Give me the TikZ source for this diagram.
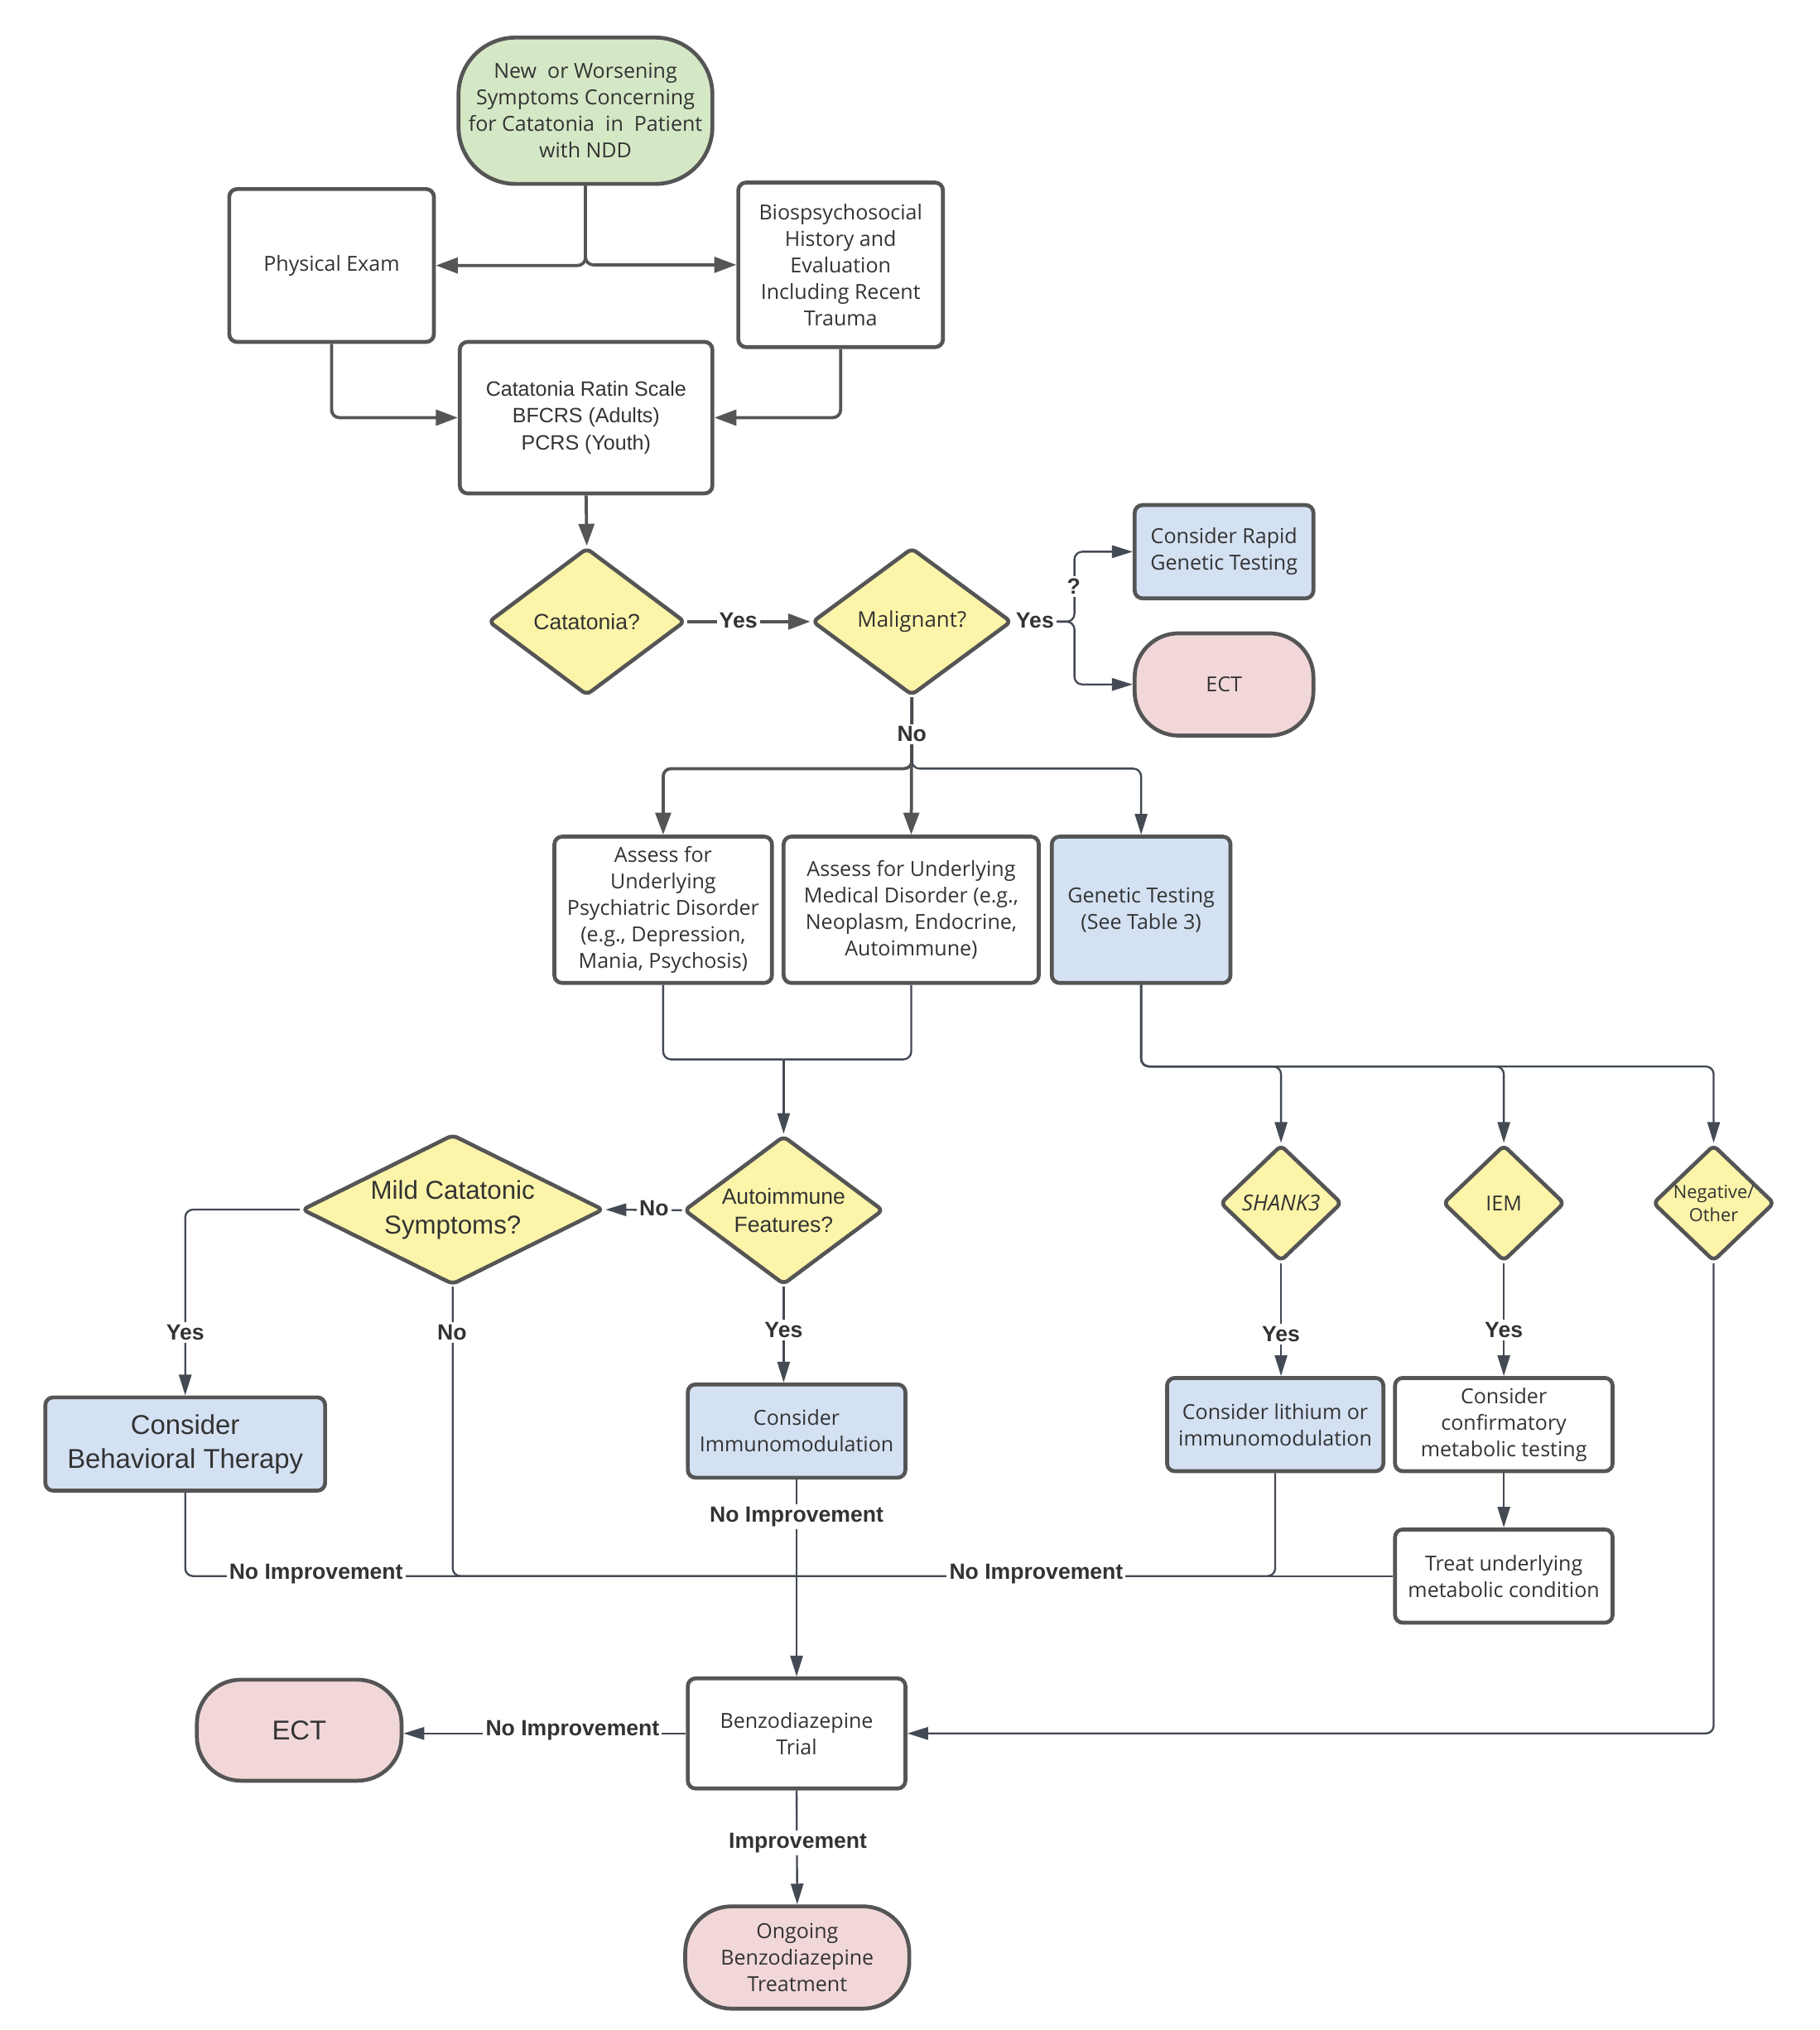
\documentclass[tikz,border=0pt]{standalone}
\usepackage{fontspec}
\setmainfont{Open Sans}
\newfontfamily\arialf{Liberation Sans}
\usetikzlibrary{shapes.geometric,arrows.meta,calc}
\definecolor{bord}{HTML}{555555}
\definecolor{linec}{HTML}{434A54}
\definecolor{txt}{HTML}{333333}
\definecolor{gfill}{HTML}{D5E8C6}
\definecolor{yfill}{HTML}{FCF5A9}
\definecolor{bfill}{HTML}{D4E1F3}
\definecolor{pfill}{HTML}{F2D7D9}
\begin{document}
\begin{tikzpicture}[x=0.5pt,y=-0.5pt,
 box/.style={draw=bord, line width=1.5pt, rounded corners=3pt, fill=white, align=center, text=txt, inner sep=0pt, font=\fontsize{8}{10.25}\selectfont},
 dia/.style={diamond, draw=bord, line width=1.5pt, rounded corners=2pt, fill=yfill, inner sep=0pt},
 dtext/.style={align=center, text=txt, inner sep=0pt, font=\fontsize{8}{10.25}\selectfont},
 thk/.style={draw=bord, line width=1.2pt, rounded corners=3pt},
 thn/.style={draw=linec, line width=0.75pt, rounded corners=3pt},
 tarr/.style={thk, -{Triangle[length=8.5pt,width=6pt]}},
 narr/.style={thn, -{Triangle[length=8pt,width=4.8pt]}},
 lbl/.style={fill=white, inner sep=1pt, text=txt, font=\arialf\bfseries\fontsize{8.5}{10}\selectfont},
]
\useasboundingbox (1,1) rectangle (1406,1568.5);
% nodes
\node[box, fill=gfill, rounded corners=22pt, minimum width=98pt, minimum height=56.5pt] (start) at (453,86.5) {New\ \ or Worsening\\Symptoms Concerning\\for Catatonia\ \ in\ \ Patient\\with NDD};
\node[box, minimum width=79pt, minimum height=59pt] (pe) at (257,206) {Physical Exam};
\node[box, minimum width=79pt, minimum height=63.5pt] (bio) at (650,205.5) {Biospsychosocial\\History and\\Evaluation\\Including Recent\\Trauma};
\node[box, minimum width=97.5pt, minimum height=58.5pt, font=\arialf\fontsize{8}{10.5}\selectfont] (crs) at (453.5,323.5) {Catatonia Ratin Scale\\BFCRS (Adults)\\PCRS (Youth)};
\node[dia, minimum width=76pt, minimum height=57pt, label={[dtext, font=\arialf\fontsize{8.5}{10.5}\selectfont]center:Catatonia?}] (cat) at (454,481) {};
\node[dia, minimum width=77pt, minimum height=57pt, label={[dtext, font=\fontsize{8.3}{10.5}\selectfont]center:Malignant?}] (mal) at (705,481) {};
\node[box, fill=bfill, minimum width=69pt, minimum height=36pt] (rapid) at (946,427) {Consider Rapid\\Genetic Testing};
\node[box, fill=pfill, rounded corners=17pt, minimum width=69pt, minimum height=39.5pt] (ect1) at (946,529.5) {ECT};
\node[box, minimum width=84pt, minimum height=56.5pt] (psy) at (513,703.5) {Assess for\\Underlying\\Psychiatric Disorder\\(e.g., Depression,\\Mania, Psychosis)};
\node[box, minimum width=98.5pt, minimum height=56.5pt] (med) at (704.5,703.5) {Assess for Underlying\\Medical Disorder (e.g.,\\Neoplasm, Endocrine,\\Autoimmune)};
\node[box, fill=bfill, minimum width=69pt, minimum height=56.5pt] (gen) at (882,703.5) {Genetic Testing\\(See Table 3)};
\node[dia, minimum width=77pt, minimum height=57.5pt, label={[dtext, font=\arialf\fontsize{8.5}{11}\selectfont]center:Autoimmune\\Features?}] (auto) at (606,935.5) {};
\node[dia, minimum width=116.5pt, minimum height=58pt, label={[dtext, font=\arialf\fontsize{10}{13.5}\selectfont]center:Mild Catatonic\\Symptoms?}] (mild) at (350.5,935) {};
\node[dia, minimum width=47pt, minimum height=45pt, label={[dtext, font=\fontsize{8.5}{10.5}\selectfont]center:\textit{SHANK3}}] (shank) at (990,930) {};
\node[dia, minimum width=47pt, minimum height=45pt, label={[dtext]center:IEM}] (iem) at (1162,930) {};
\node[dia, minimum width=47pt, minimum height=45pt, label={[dtext, font=\fontsize{7}{9}\selectfont]center:Negative/\\Other}] (neg) at (1324,930) {};
\node[box, fill=bfill, minimum width=108pt, minimum height=36pt, font=\arialf\fontsize{10.5}{13}\selectfont] (beh) at (144,1116) {Consider\\Behavioral Therapy};
\node[box, fill=bfill, minimum width=84pt, minimum height=36pt] (imm) at (616,1106) {Consider\\Immunomodulation};
\node[box, fill=bfill, minimum width=83.5pt, minimum height=36pt] (lith) at (985.5,1101) {Consider lithium or\\immunomodulation};
\node[box, minimum width=84pt, minimum height=36pt] (conf) at (1162,1101) {Consider\\confirmatory\\metabolic testing};
\node[box, minimum width=84pt, minimum height=36pt] (treat) at (1162,1218) {Treat underlying\\metabolic condition};
\node[box, minimum width=84pt, minimum height=42.5pt] (benzo) at (616,1339.5) {Benzodiazepine\\Trial};
\node[box, fill=pfill, rounded corners=17pt, minimum width=79pt, minimum height=39pt, font=\arialf\fontsize{10.5}{13}\selectfont] (ect2) at (232,1337) {ECT};
\node[box, fill=pfill, rounded corners=18pt, minimum width=86.5pt, minimum height=39.5pt] (ong) at (616.5,1512.5) {Ongoing\\Benzodiazepine\\Treatment};
% connectors
\draw[tarr] (start.south) |- (pe.east);
\draw[tarr] (start.south) |- (bio.west);
\draw[tarr] (pe.south) |- (crs.west);
\draw[tarr] (bio.south) |- (crs.east);
\draw[tarr] (crs.south) -- (cat.north);
\draw[tarr] (cat.east) -- (mal.west);
\draw[narr] (mal.east) -- ++(47,0) |- (rapid.west);
\draw[narr] (mal.east) -- ++(47,0) |- (ect1.west);
\draw[tarr] (mal.south) -- ++(0,55) -| (psy.north);
\draw[tarr] (mal.south) -- (med.north);
\draw[narr] (mal.south) -- ++(0,55) -| (gen.north);
\coordinate (j3) at (606,819);
\draw[thn] (psy.south) |- (j3);
\draw[thn] (med.south) |- (j3);
\draw[narr] (j3) -- (auto.north);
\draw[narr] (gen.south) -- ++(0,63) -| (shank.north);
\draw[narr] (gen.south) -- ++(0,63) -| (iem.north);
\draw[narr] (gen.south) -- ++(0,63) -| (neg.north);
\draw[narr] (auto.west) -- (mild.east);
\draw[narr] (auto.south) -- (auto.south |- imm.north);
\draw[narr] (mild.west) -| (beh.north);
\coordinate (j5) at (616,1218);
\draw[thn] (mild.south) |- (j5);
\draw[thn] (beh.south) |- (j5);
\draw[narr] (imm.south) -- (benzo.north);
\draw[thn] (lith.south) |- (j5);
\draw[thn] (treat.west) -- (j5);
\draw[narr] (conf.south) -- (treat.north);
\draw[narr] (iem.south) -- (conf.north);
\draw[narr] (shank.south) -- (shank.south |- lith.north);
\draw[narr] (neg.south) |- (benzo.east);
\draw[narr] (benzo.west) -- (benzo.west -| ect2.east);
\draw[narr] (benzo.south) -- (ong.north);
% labels
\node[lbl] (l1) at (571,480) {Yes};
\node[lbl] (l2) at (800,480) {Yes};
\node[lbl] (l3) at (830,454) {?};
\node[lbl] (l4) at (705,568) {No};
\node[lbl] (l5) at (506,934) {No};
\node[lbl] (l6) at (606,1028) {Yes};
\node[lbl] (l7) at (144,1030) {Yes};
\node[lbl] (l8) at (350,1030) {No};
\node[lbl] (l9) at (245,1216) {No Improvement};
\node[lbl] (l10) at (616,1172) {No Improvement};
\node[lbl] (l11) at (801,1216) {No Improvement};
\node[lbl] (l12) at (990,1031) {Yes};
\node[lbl] (l13) at (1162,1028) {Yes};
\node[lbl] (l14) at (443,1337) {No Improvement};
\node[lbl] (l15) at (617,1424) {Improvement};
\end{tikzpicture}
\end{document}
